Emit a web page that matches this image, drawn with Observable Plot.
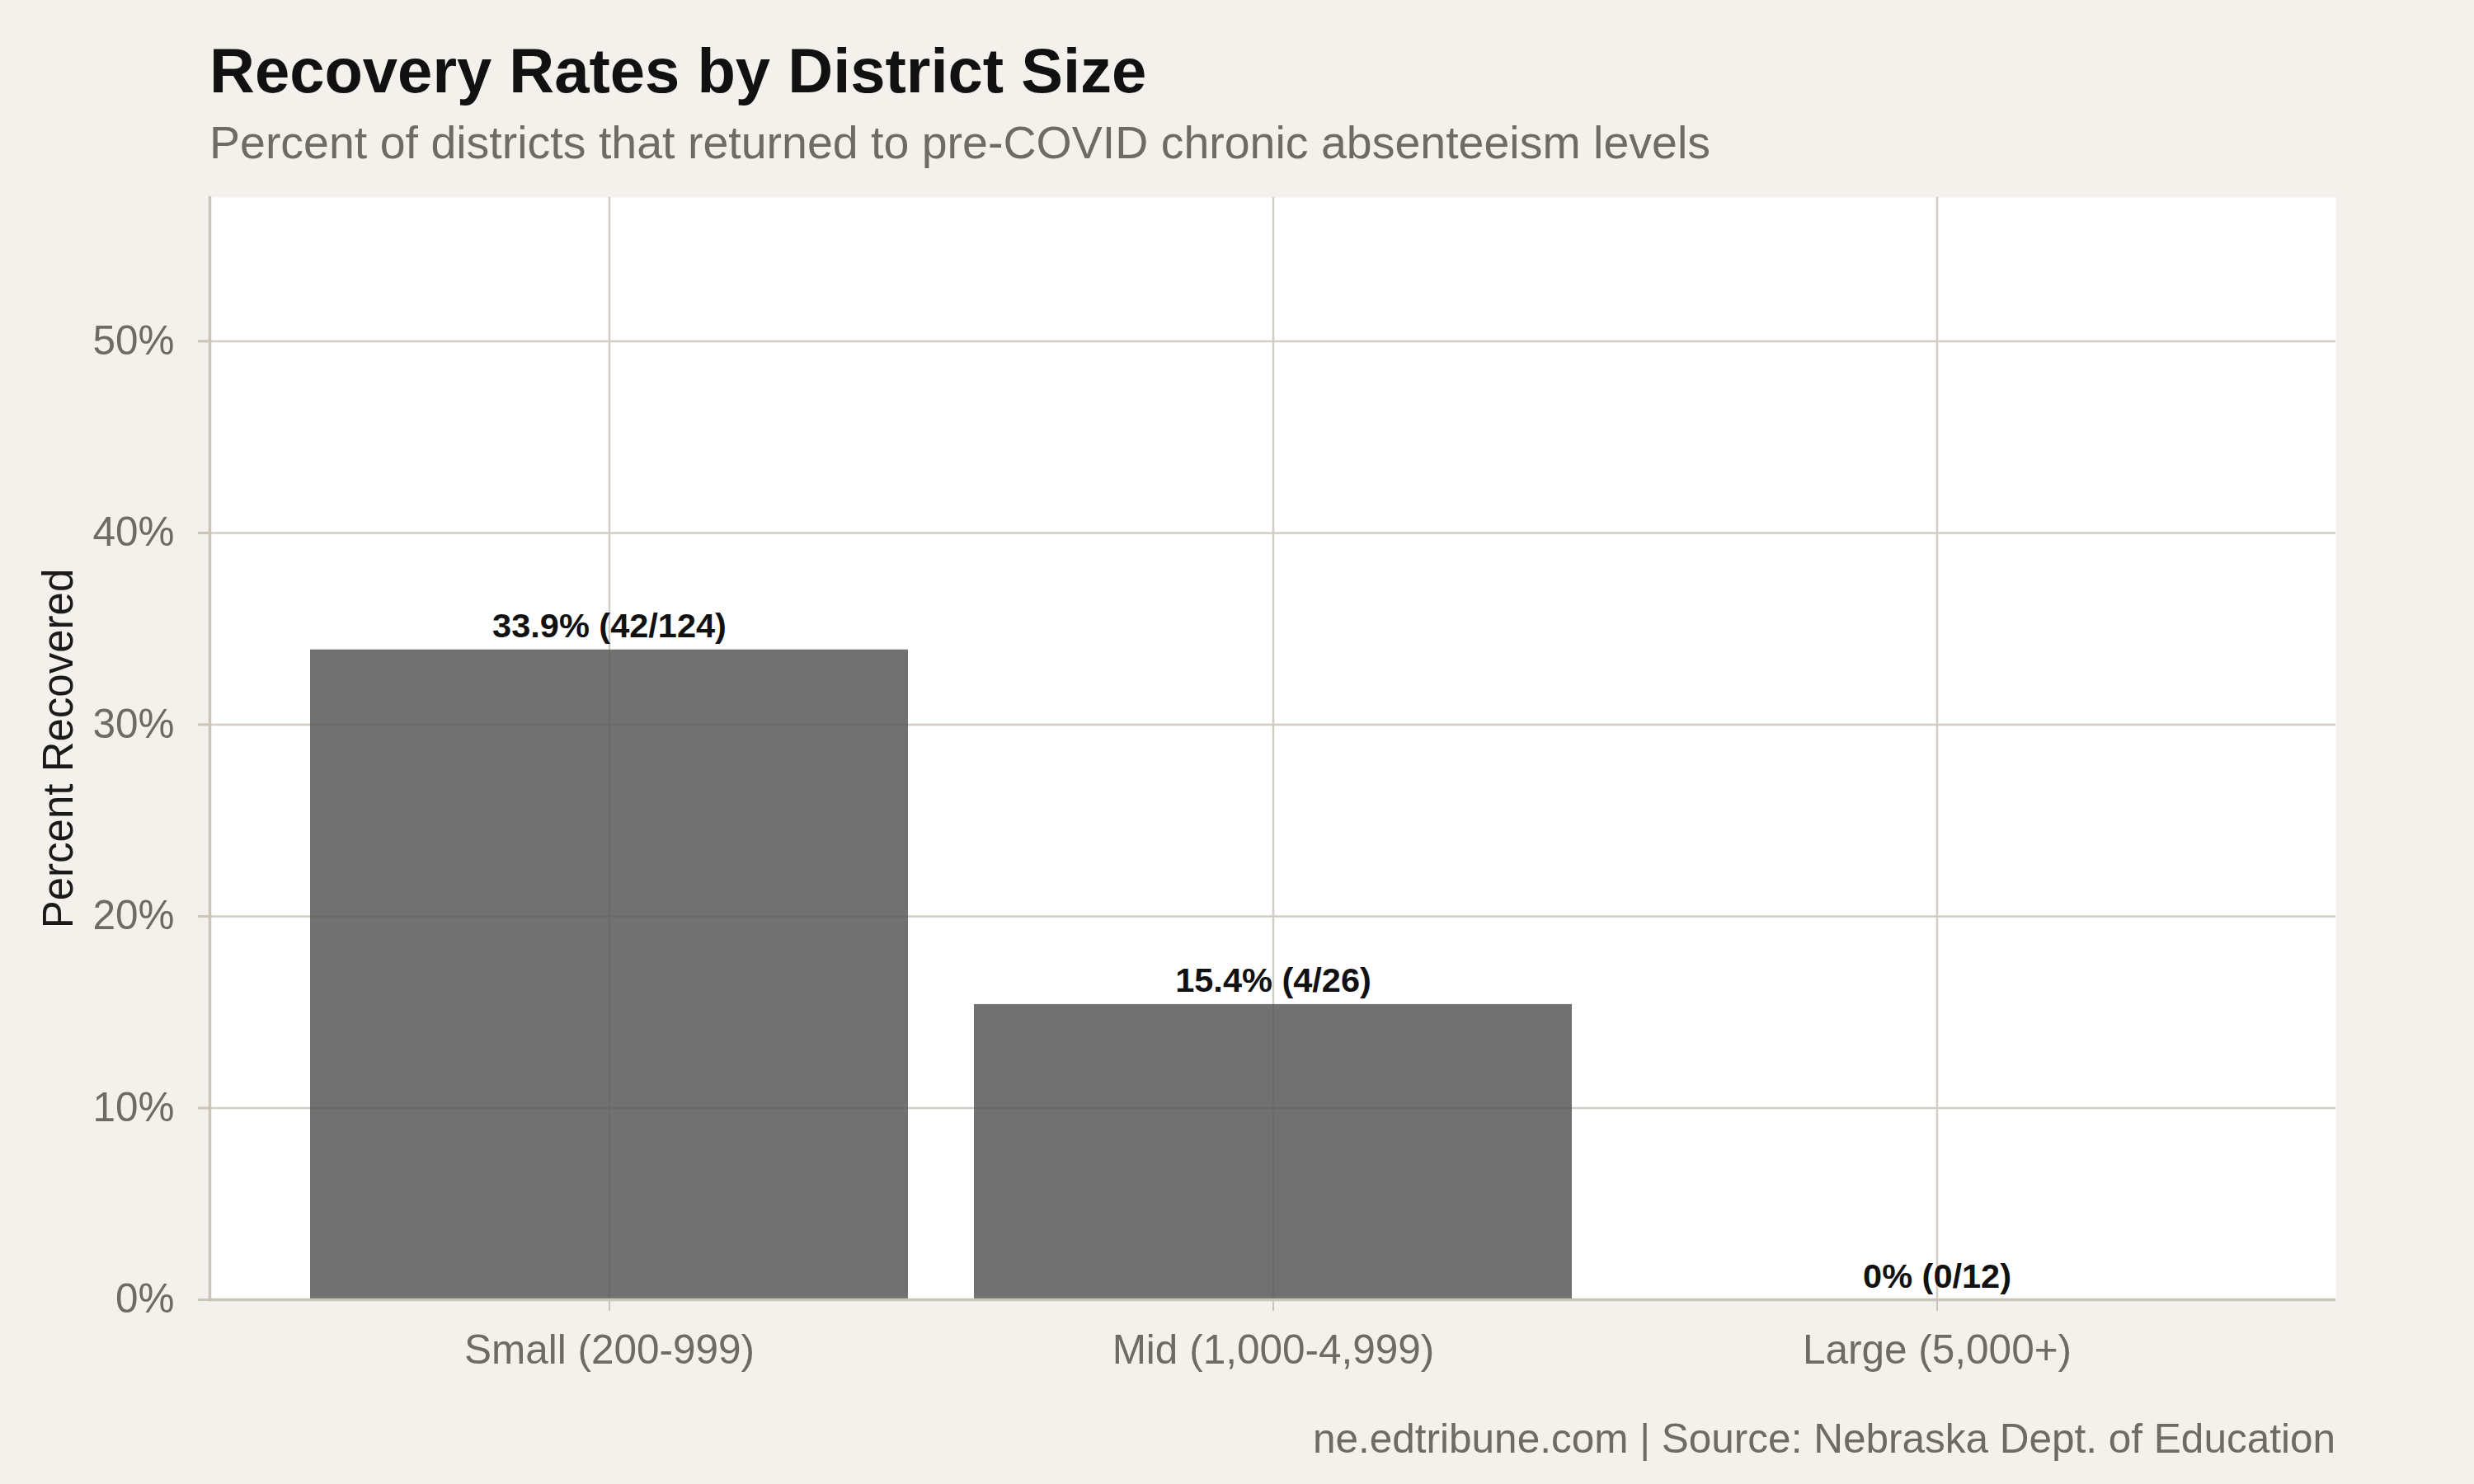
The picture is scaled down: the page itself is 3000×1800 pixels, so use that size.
<!DOCTYPE html>
<html>
<head>
<meta charset="utf-8">
<script src="https://cdn.jsdelivr.net/npm/d3@7"></script>
<script src="https://cdn.jsdelivr.net/npm/@observablehq/plot@0.6"></script>
<style>
  html, body { margin: 0; padding: 0; background: #f4f1ec; }
  #wrap { position: relative; width: 3000px; height: 1800px; background: #f4f1ec; font-family: "Liberation Sans", Arial, Helvetica, sans-serif; }
  #title { position: absolute; left: 254px; top: 48px; font-size: 76px; line-height: 1; font-weight: bold; color: #111111; white-space: nowrap; }
  #subtitle { position: absolute; left: 254px; top: 146px; font-size: 55.5px; line-height: 1; color: #6e6a65; white-space: nowrap; }
  #caption { position: absolute; right: 168px; top: 1720px; font-size: 49.5px; line-height: 1; color: #6e6a65; white-space: nowrap; }
  #chart { position: absolute; left: 0; top: 200px; }
</style>
</head>
<body>
<div id="wrap">
  <div id="title">Recovery Rates by District Size</div>
  <div id="subtitle">Percent of districts that returned to pre-COVID chronic absenteeism levels</div>
  <div id="chart"></div>
  <div id="caption">ne.edtribune.com | Source: Nebraska Dept. of Education</div>
</div>
<script>
// ---- data ----
const categories = ["Small (200-999)", "Mid (1,000-4,999)", "Large (5,000+)"];
const percentRecovered = [33.9, 15.4, 0];
const recoveredCounts = [42, 4, 0];
const districtTotals = [124, 26, 12];
const yTicks = [0, 10, 20, 30, 40, 50];

const rows = categories.map((c, i) => ({
  size: c,
  pct: percentRecovered[i],
  label: `${percentRecovered[i]}% (${recoveredCounts[i]}/${districtTotals[i]})`
}));

const gridColor = "#d2cdc4";
const axisColor = "#cac4b9";
const textGray = "#6e6a65";

const plot = Plot.plot({
  width: 3000,
  height: 1486,
  marginTop: 39,
  marginBottom: 110,
  marginLeft: 254,
  marginRight: 168,
  style: { background: "transparent", fontFamily: "'Liberation Sans', Arial, Helvetica, sans-serif", overflow: "visible" },
  x: { type: "band", domain: categories, paddingInner: 0.1, paddingOuter: 0.15, label: null },
  y: { domain: [0, 57.5], label: null },
  marks: [
    Plot.frame({ fill: "white", stroke: "none" }),
    Plot.gridY(yTicks, { stroke: gridColor, strokeOpacity: 1, strokeWidth: 2.5 }),
    Plot.gridX(categories, { stroke: gridColor, strokeOpacity: 1, strokeWidth: 2.5 }),
    Plot.barY(rows, { x: "size", y: "pct", fill: "#585858", fillOpacity: 0.85 }),
    Plot.ruleY([0], { stroke: axisColor, strokeWidth: 3.5 }),
    Plot.frame({ anchor: "left", stroke: axisColor, strokeWidth: 3.5 }),
    Plot.text(rows, { x: "size", y: "pct", text: "label", dy: -15, lineAnchor: "bottom", fontSize: 41.5, fontWeight: "bold", fill: "#111111" }),
    Plot.axisY(yTicks, { tickFormat: d => d + "%", tickSize: 14, tickPadding: 29, fontSize: 49.5, stroke: axisColor, strokeWidth: 3, fill: textGray, label: null }),
    Plot.axisX(categories, { tickSize: 14, tickPadding: 28, fontSize: 49.5, stroke: axisColor, strokeWidth: 2, fill: textGray, label: null }),
    Plot.text(["Percent Recovered"], { frameAnchor: "left", textAnchor: "middle", rotate: -90, dx: -183, fontSize: 51, fill: "#1a1a1a", text: d => d })
  ]
});
document.getElementById("chart").appendChild(plot);
</script>
</body>
</html>
